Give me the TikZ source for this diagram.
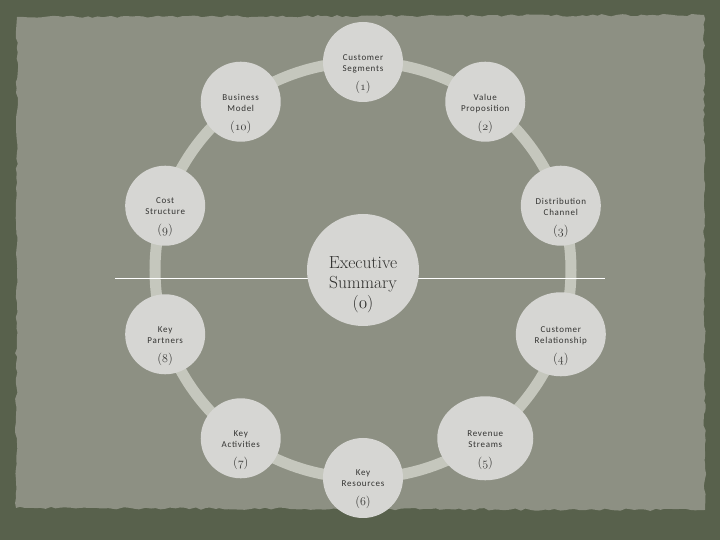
\documentclass[tikz,border=0pt]{standalone}
\usepackage{fontspec}
\usetikzlibrary{shapes.geometric,decorations.pathmorphing}
\newfontfamily\lblfont{Carlito}[LetterSpace=8]
\newcommand\onum[1]{{\usefont{OML}{lmm}{m}{it}#1}}
\newcommand\numfont{\rmfamily\fontsize{12.5}{14}\selectfont}
\newcommand\bigfont{\rmfamily\fontsize{17.5}{20}\selectfont}
\definecolor{outerbg}{RGB}{88,97,76}
\definecolor{panelbg}{RGB}{141,144,131}
\definecolor{ringgray}{RGB}{197,199,189}
\definecolor{discgray}{RGB}{214,214,211}
\definecolor{inkgray}{RGB}{52,52,50}
\tikzset{
  disc/.style={ellipse,fill=discgray,inner sep=0pt,minimum width=80pt,minimum height=80pt},
  lbl/.style={anchor=north,inner sep=0pt,align=center,text=inkgray,
    font=\lblfont\fontsize{9}{11}\selectfont},
  ring/.style={draw=ringgray,line width=11pt},
  divider/.style={draw=white,line width=1pt}
}
\begin{document}
\begin{tikzpicture}[x=1pt,y=1pt]
  \useasboundingbox (-363,-270) rectangle (357,270);
  % backdrop and torn paper panel
  \fill[outerbg] (-363,-270) rectangle (357,270);
  \pgfmathsetseed{11}
  \fill[panelbg,decorate,decoration={random steps,segment length=5pt,amplitude=1.2pt}]
    (-346,253) -- (341,255) -- (342,-240) -- (-347,-238) -- cycle;
  % ring and divider
  \coordinate (c) at (0,0);
  \draw[ring] (c) circle[radius=208];
  \draw[divider] (-248,-9) -- (242,-9);
  % blocks round the ring
  \foreach \nm/\a/\w/\h/\txt/\k in {
      cs/90/80/80/{Customer\\Segments}/1,
      vp/54/80/80/{Value\\Proposition}/2,
      dc/18/80/80/{Distribution\\Channel}/3,
      cr/-18/90/84/{Customer\\Relationship}/4,
      rs/-54/96/84/{Revenue\\Streams}/5,
      kr/-90/80/80/{Key\\Resources}/6,
      ka/-126/80/80/{Key\\Activities}/7,
      kp/-162/80/80/{Key\\Partners}/8,
      cst/162/80/80/{Cost\\Structure}/9,
      bm/126/80/80/{Business\\Model}/10}
  {
    \node[disc,minimum width=\w,minimum height=\h] (\nm) at (\a:208) {};
    \node[lbl] (\nm-t) at ([yshift=8pt]\nm.center) {\txt\\[8pt]\numfont(\onum{\k})};
  }
  % centre block
  \node[disc,minimum size=112pt] (es) at (c) {};
  \node[lbl,font=\bigfont,text=inkgray!90!black] (es-t) at ([yshift=14pt]es.center)
    {Executive\\Summary\\[0.5pt](\onum{0})};
\end{tikzpicture}
\end{document}
